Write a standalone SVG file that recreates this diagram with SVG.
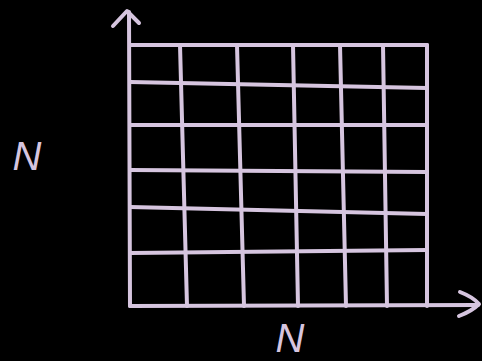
<svg xmlns="http://www.w3.org/2000/svg" width="482" height="361" viewBox="0 0 482 361">
  <style>
    .ln { stroke: #d6c5df; stroke-width: 4; fill: none; stroke-linecap: round; stroke-linejoin: round; }
    .lbl { fill: #d6c5df; font-family: "Liberation Sans", Arial, sans-serif; font-style: italic; font-size: 40px; }
  </style>
  <rect width="482" height="361" fill="#000000"/>
  <g id="axes">
    <path class="ln" d="M129,12 L130,306"/>
    <path class="ln" d="M113,26 L127,11 L139,23"/>
    <path class="ln" d="M130,306 L478,305"/>
    <path class="ln" d="M460,292 Q473,297 479,304 Q472,311 459,316"/>
  </g>
  <g id="grid">
    <path class="ln" d="M130,45 L427,45"/>
    <path class="ln" d="M130,82 L427,88"/>
    <path class="ln" d="M130,125 L427,125"/>
    <path class="ln" d="M130,170 L427,172"/>
    <path class="ln" d="M130,207 L427,214"/>
    <path class="ln" d="M130,253 L427,250"/>
    <path class="ln" d="M180,45 L187,306"/>
    <path class="ln" d="M237,45 L244,306"/>
    <path class="ln" d="M293,45 L298,306"/>
    <path class="ln" d="M340,45 L346,306"/>
    <path class="ln" d="M383,45 L387,306"/>
    <path class="ln" d="M427,45 L427,306"/>
  </g>
  <g id="labels">
    <text class="lbl" x="27" y="170" text-anchor="middle">N</text>
    <text class="lbl" x="290" y="352" text-anchor="middle">N</text>
  </g>
</svg>
